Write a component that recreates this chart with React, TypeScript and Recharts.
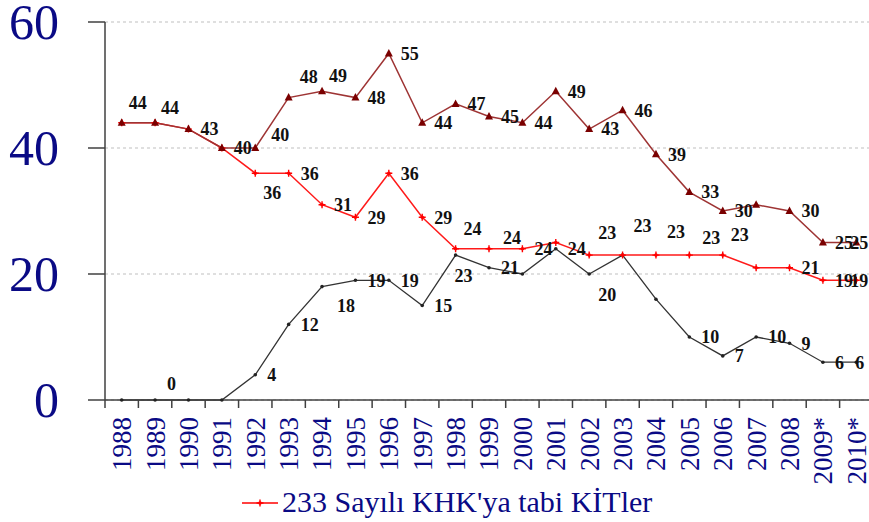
import React from 'react'
import { CartesianGrid, LabelList, Legend, Line, LineChart, XAxis, YAxis } from 'recharts'

const years = ['1988', '1989', '1990', '1991', '1992', '1993', '1994', '1995', '1996', '1997', '1998', '1999',
    '2000', '2001', '2002', '2003', '2004', '2005', '2006', '2007', '2008', '2009*', '2010*']
const toplamKit = [44, 44, 43, 40, 40, 48, 49, 48, 55, 44, 47, 45, 44, 49, 43, 46, 39, 33, 30, 31, 30, 25, 25]
const khk233 = [44, 44, 43, 40, 36, 36, 31, 29, 36, 29, 24, 24, 24, 25, 23, 23, 23, 23, 23, 21, 21, 19, 19]
const ozellestirme = [0, 0, 0, 0, 4, 12, 18, 19, 19, 15, 23, 21, 20, 24, 20, 23, 16, 10, 7, 10, 9, 6, 6]
const yTicks = [0, 20, 40, 60]

// label tweaks [dx, dy] from the default spot right of the point, null = no label
type Nudges = Record<string, [number, number] | null>
const toplamNudge: Nudges = {
    '1988': [-5, -20], '1989': [-6, -15], '1992': [4, -13], '1993': [-1, -21], '1994': [-5, -16],
    '2007': null, '2010*': [-18, 0],
}
const khkNudge: Nudges = {
    '1988': null, '1989': null, '1990': null, '1991': null, '1992': [-4, 19], '1998': [-4, -20],
    '1999': [2, -11], '2001': null, '2002': [-3, -22], '2003': [-1, -29], '2004': [-1, -23],
    '2005': [1, -17], '2006': [-4, -20], '2007': null, '2010*': [-18, 0],
}
const ozNudge: Nudges = {
    '1988': null, '1989': [0, -16], '1990': null, '1991': null, '1994': [3, 19], '1998': [-13, 21],
    '2000': null, '2002': [-3, 21], '2003': null, '2004': null, '2010*': [-13, 0],
}

const data = years.map((year, i) => ({
    year,
    toplam: toplamKit[i],
    khk: khk233[i],
    oz: ozellestirme[i],
}))

const NAVY = '#0a0a85'
const FONT = '"Liberation Serif", "Times New Roman", serif'
const W = 880
const H = 522
const PLOT_LEFT = 105
const PLOT_RIGHT = 7
const PLOT_BOTTOM = 400
const STEP = (W - PLOT_LEFT - PLOT_RIGHT) / years.length

const makeLabel = (nudges: Nudges) => (props: any) => {
    const { x, y, value, index } = props
    const nudge = nudges[years[index]]
    if (nudge === null) return null
    const [dx, dy] = nudge ?? [0, 0]
    return (
        <text x={x + 12 + dx} y={y + dy} dy="0.35em" textAnchor="start" fontFamily={FONT}
            fontSize={18} fontWeight={700} fill="#111">
            {value}
        </text>
    )
}

const Triangle = (p: any) => {
    const { cx, cy, index } = p
    return <polygon key={index} points={`${cx},${cy - 4.5} ${cx - 4},${cy + 3} ${cx + 4},${cy + 3}`} fill="#7a0000" />
}
const Plus = (p: any) => {
    const { cx, cy, index } = p
    return (
        <g key={index}>
            <path d={`M${cx - 3.5},${cy} H${cx + 3.5} M${cx},${cy - 3.5} V${cy + 3.5}`} stroke="#ff0000" strokeWidth={1.4} />
            <circle cx={cx} cy={cy} r={1.8} fill="#ff0000" />
        </g>
    )
}
const Dot = (p: any) => {
    const { cx, cy, index } = p
    return <circle key={index} cx={cx} cy={cy} r={1.8} fill="#222" />
}

const YearTick = (props: any) => {
    const { x, payload } = props
    const lx = x - STEP / 2
    return (
        <g>
            <line x1={lx} x2={lx} y1={PLOT_BOTTOM} y2={PLOT_BOTTOM + 8} stroke="#404040" strokeWidth={1.5} />
            <text x={x} y={417} transform={`rotate(-90, ${x}, 417)`} textAnchor="end" dy="0.35em"
                fontFamily={FONT} fontSize={27} fill={NAVY}>
                {payload.value}
            </text>
        </g>
    )
}

const ValueTick = (props: any) => {
    const { y, payload } = props
    return (
        <text x={59} y={y} dy="0.34em" textAnchor="end" fontFamily={FONT} fontSize={50} fill={NAVY}>
            {payload.value}
        </text>
    )
}

const LegendBox = () => (
    <svg width={W} height={40} style={{ display: 'block' }}>
        <line x1={242} x2={278} y1={21} y2={21} stroke="#ff0000" strokeWidth={1.5} />
        <circle cx={260} cy={21} r={1.8} fill="#ff0000" />
        <path d="M256.5,21 H263.5 M260,17.5 V24.5" stroke="#ff0000" strokeWidth={1.4} />
        <text x={282} y={30} fontFamily={FONT} fontSize={30} fill={NAVY}>233 Sayılı KHK'ya tabi KİTler</text>
    </svg>
)

const App = () => {
    return (
        <div style={{ position: 'absolute', left: 0, top: 0, width: 869, height: H, overflow: 'hidden', background: '#fff' }}>
            <LineChart width={W} height={H} data={data} margin={{ top: 22, right: PLOT_RIGHT, left: 0, bottom: 0 }}>
                <CartesianGrid vertical={false} strokeDasharray="3 3" stroke="#bfbfbf" />
                <XAxis dataKey="year" height={82} interval={0} tickLine={false} tick={<YearTick />}
                    padding={{ left: STEP / 2, right: STEP / 2 }}
                    axisLine={{ stroke: '#404040', strokeWidth: 1.5 }} />
                <YAxis width={PLOT_LEFT} domain={[0, 60]} ticks={yTicks} tickSize={17} tick={<ValueTick />}
                    axisLine={{ stroke: '#404040', strokeWidth: 1.5 }} tickLine={{ stroke: '#404040', strokeWidth: 1.5 }} />
                <Legend verticalAlign="bottom" height={40} content={<LegendBox />} />
                <Line dataKey="oz" name="Özelleştirme kapsamındaki KİTler" type="linear" stroke="#333"
                    strokeWidth={1.3} dot={Dot} activeDot={false} legendType="none" isAnimationActive={false}>
                    <LabelList dataKey="oz" content={makeLabel(ozNudge)} />
                </Line>
                <Line dataKey="khk" name="233 Sayılı KHK'ya tabi KİTler" type="linear" stroke="#ff1a1a"
                    strokeWidth={1.5} dot={Plus} activeDot={false} isAnimationActive={false}>
                    <LabelList dataKey="khk" content={makeLabel(khkNudge)} />
                </Line>
                <Line dataKey="toplam" name="Toplam KİT" type="linear" stroke="#9e3434"
                    strokeWidth={1.5} dot={Triangle} activeDot={false} legendType="none" isAnimationActive={false}>
                    <LabelList dataKey="toplam" content={makeLabel(toplamNudge)} />
                </Line>
            </LineChart>
        </div>
    )
}

export default App
